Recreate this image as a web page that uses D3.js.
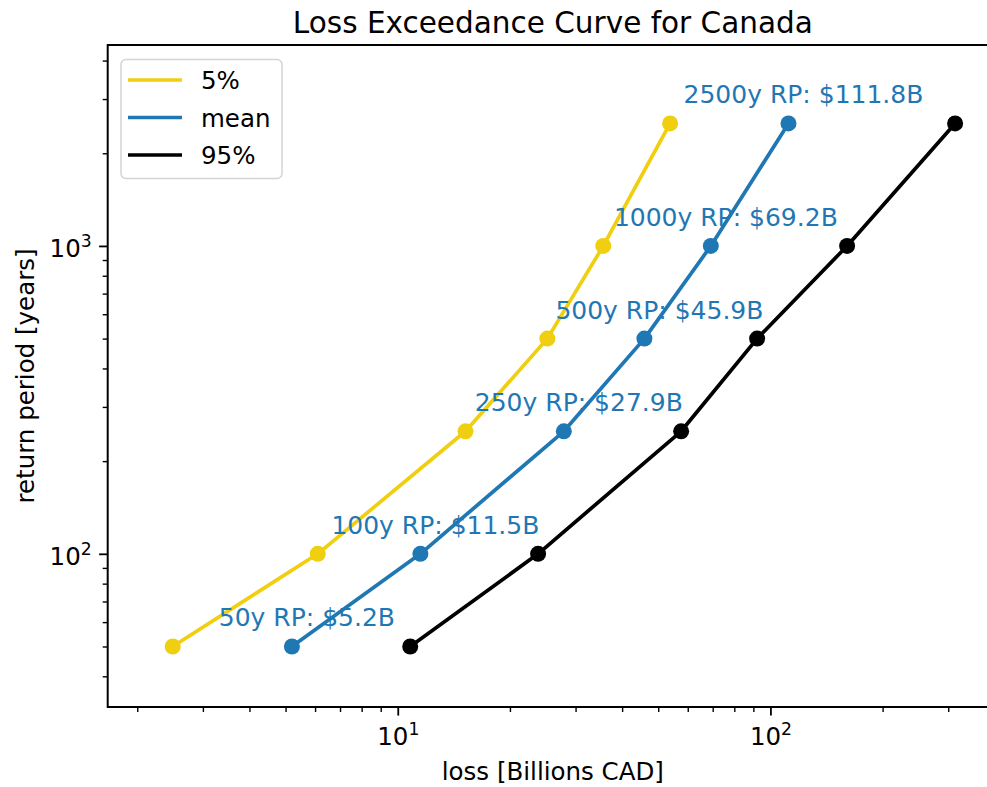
<!DOCTYPE html>
<html>
<head>
<meta charset="utf-8">
<script src="https://cdn.jsdelivr.net/npm/d3@7"></script>
<style>
  html, body { margin: 0; padding: 0; background: #fff; }
  svg { display: block; font-family: "DejaVu Sans", sans-serif; }
</style>
</head>
<body>
<svg id="chart" width="987" height="787"></svg>
<script>
// Return periods (years) and losses (billions CAD) per percentile
const returnPeriods = [50, 100, 250, 500, 1000, 2500];
const loss5 = [2.49, 6.1, 15.2, 25.2, 35.6, 53.8];
const lossMean = [5.2, 11.5, 27.9, 45.9, 69.2, 111.8];
const loss95 = [10.8, 23.8, 57.6, 92.1, 160.6, 313];
const seriesNames = ["5%", "mean", "95%"];
const seriesColors = ["#F0CE10", "#1f77b4", "#000000"];
const xMajorTicks = [10, 100];
const yMajorTicks = [100, 1000];
const xLimits = [1.666, 408];
const yLimits = [31.8, 4494];

const svg = d3.select("#chart");
const plot = { left: 107.7, right: 998, top: 45, bottom: 707 };
const FS = 24.5;

const x = d3.scaleLog().domain(xLimits).range([plot.left, plot.right]);
const y = d3.scaleLog().domain(yLimits).range([plot.bottom, plot.top]);

// minor ticks: 2..9 times each power of ten inside the limits
function minorTicks(lim) {
  const out = [];
  for (let p = -1; p <= 4; p++) {
    for (let m = 2; m <= 9; m++) {
      const v = m * Math.pow(10, p);
      if (v >= lim[0] && v <= lim[1]) out.push(v);
    }
  }
  return out;
}

svg.append("defs").append("clipPath").attr("id", "plotclip")
  .append("rect").attr("x", plot.left).attr("y", plot.top)
  .attr("width", plot.right - plot.left).attr("height", plot.bottom - plot.top);

// lines and markers
const series = [loss5, lossMean, loss95];
const line = d3.line().x(d => x(d[0])).y(d => y(d[1]));
const gData = svg.append("g").attr("clip-path", "url(#plotclip)");
series.forEach((vals, i) => {
  const pts = vals.map((v, j) => [v, returnPeriods[j]]);
  gData.append("path").datum(pts)
    .attr("d", line).attr("fill", "none")
    .attr("stroke", seriesColors[i]).attr("stroke-width", 3.7)
    .attr("stroke-linejoin", "round").attr("stroke-linecap", "butt");
  gData.selectAll(null).data(pts).enter().append("circle")
    .attr("cx", d => x(d[0])).attr("cy", d => y(d[1])).attr("r", 8)
    .attr("fill", seriesColors[i]);
});

// annotations on the mean curve
svg.append("g").selectAll("text")
  .data(lossMean.map((v, j) => [v, returnPeriods[j]]))
  .enter().append("text")
  .attr("x", d => x(d[0]) + 15)
  .attr("y", d => y(d[1]) - 20)
  .attr("text-anchor", "middle")
  .attr("font-size", 25)
  .attr("fill", "#1f77b4")
  .text(d => `${d[1]}y RP: $${d[0].toFixed(1)}B`);

// axes
function styleAxis(g) {
  g.select(".domain").remove();
  g.selectAll(".tick line").attr("stroke", "#000").attr("stroke-width", 1.8);
  g.selectAll("text").attr("fill", "#000").attr("font-size", FS)
    .attr("font-family", "DejaVu Sans, sans-serif");
}
function powerLabel(sel) {
  sel.each(function (d) {
    const t = d3.select(this);
    const e = Math.round(Math.log10(d));
    t.text(null);
    t.append("tspan").text("10");
    t.append("tspan").attr("dy", -10).attr("font-size", FS * 0.7).text(e);
  });
}

const gxMinor = svg.append("g").attr("transform", `translate(0,${plot.bottom})`)
  .call(d3.axisBottom(x).tickValues(minorTicks(xLimits)).tickSize(5).tickFormat(""));
styleAxis(gxMinor);
gxMinor.selectAll(".tick line").attr("stroke-width", 1.4);

const gx = svg.append("g").attr("transform", `translate(0,${plot.bottom})`)
  .call(d3.axisBottom(x).tickValues(xMajorTicks).tickSize(8.6).tickPadding(10));
styleAxis(gx);
gx.selectAll(".tick text").attr("dy", null).attr("y", 38).call(powerLabel);

const gyMinor = svg.append("g").attr("transform", `translate(${plot.left},0)`)
  .call(d3.axisLeft(y).tickValues(minorTicks(yLimits)).tickSize(5).tickFormat(""));
styleAxis(gyMinor);
gyMinor.selectAll(".tick line").attr("stroke-width", 1.4);

const gy = svg.append("g").attr("transform", `translate(${plot.left},0)`)
  .call(d3.axisLeft(y).tickValues(yMajorTicks).tickSize(8.6).tickPadding(8));
styleAxis(gy);
gy.selectAll(".tick text").attr("dy", null).attr("y", 11).attr("x", -16).call(powerLabel);

// spines
svg.append("rect")
  .attr("x", plot.left).attr("y", plot.top)
  .attr("width", plot.right - plot.left).attr("height", plot.bottom - plot.top)
  .attr("fill", "none").attr("stroke", "#000").attr("stroke-width", 2);

// titles
svg.append("text").attr("x", (plot.left + plot.right) / 2).attr("y", 33)
  .attr("text-anchor", "middle").attr("font-size", 29.5).attr("fill", "#000")
  .text("Loss Exceedance Curve for Canada");
svg.append("text").attr("x", (plot.left + plot.right) / 2).attr("y", 780)
  .attr("text-anchor", "middle").attr("font-size", FS).attr("fill", "#000")
  .text("loss [Billions CAD]");
svg.append("text")
  .attr("transform", `translate(25,${(plot.top + plot.bottom) / 2}) rotate(-90)`)
  .attr("text-anchor", "middle").attr("font-size", FS).attr("fill", "#000")
  .attr("dy", "0.35em")
  .text("return period [years]");

// legend
const lg = svg.append("g");
lg.append("rect").attr("x", 121).attr("y", 59.5).attr("width", 161).attr("height", 119)
  .attr("rx", 5).attr("fill", "#fff").attr("fill-opacity", 0.8)
  .attr("stroke", "#d4d4d4").attr("stroke-width", 1.5);
const rowY = [80, 117.5, 155];
seriesNames.forEach((name, i) => {
  lg.append("line").attr("x1", 128).attr("x2", 182)
    .attr("y1", rowY[i]).attr("y2", rowY[i])
    .attr("stroke", seriesColors[i]).attr("stroke-width", 3.7);
  lg.append("text").attr("x", 201).attr("y", rowY[i] + 9)
    .attr("font-size", FS).attr("fill", "#000").text(name);
});
</script>
</body>
</html>
